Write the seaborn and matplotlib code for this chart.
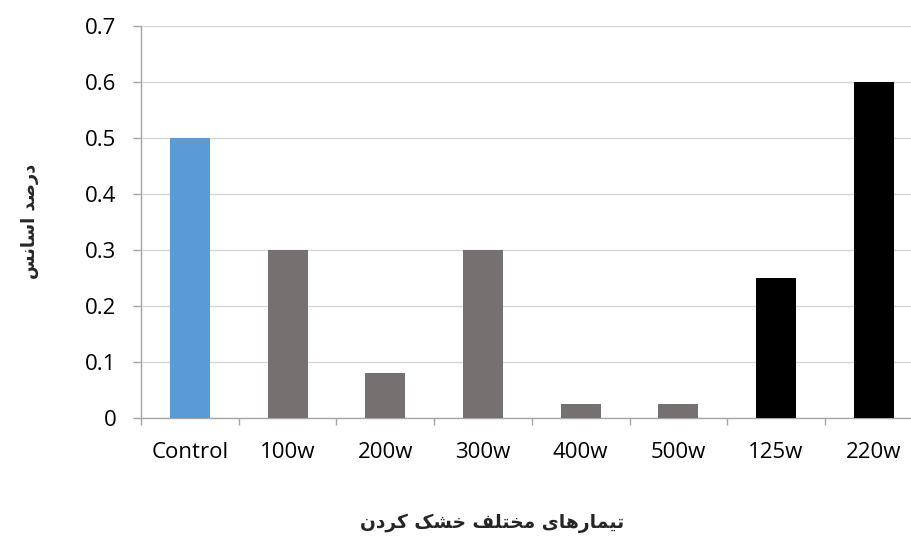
import matplotlib
matplotlib.use("Agg")
import matplotlib.pyplot as plt
import seaborn as sns

# Essential oil percentage by drying treatment
categories = ["Control", "100w", "200w", "300w", "400w", "500w", "125w", "220w"]
values = [0.5, 0.3, 0.08, 0.3, 0.025, 0.025, 0.25, 0.6]
bar_colors = ["#5B9BD5", "#767171", "#767171", "#767171", "#767171", "#767171",
              "#000000", "#000000"]
y_ticks = [0, 0.1, 0.2, 0.3, 0.4, 0.5, 0.6, 0.7]
y_label = "درصد اسانس"
x_label = "تیمارهای مختلف خشک کردن"

# Contextual forms (isolated, final, initial, medial) for the letters used
FORMS = {
    "ا": ("\uFE8D", "\uFE8E", None, None),
    "د": ("\uFEA9", "\uFEAA", None, None),
    "ر": ("\uFEAD", "\uFEAE", None, None),
    "ص": ("\uFEB9", "\uFEBA", "\uFEBB", "\uFEBC"),
    "س": ("\uFEB1", "\uFEB2", "\uFEB3", "\uFEB4"),
    "ن": ("\uFEE5", "\uFEE6", "\uFEE7", "\uFEE8"),
    "ت": ("\uFE95", "\uFE96", "\uFE97", "\uFE98"),
    "ی": ("\uFBFC", "\uFBFD", "\uFBFE", "\uFBFF"),
    "م": ("\uFEE1", "\uFEE2", "\uFEE3", "\uFEE4"),
    "ه": ("\uFEE9", "\uFEEA", "\uFEEB", "\uFEEC"),
    "خ": ("\uFEA5", "\uFEA6", "\uFEA7", "\uFEA8"),
    "ل": ("\uFEDD", "\uFEDE", "\uFEDF", "\uFEE0"),
    "ف": ("\uFED1", "\uFED2", "\uFED3", "\uFED4"),
    "ش": ("\uFEB5", "\uFEB6", "\uFEB7", "\uFEB8"),
    "ک": ("\uFB8E", "\uFB8F", "\uFB90", "\uFB91"),
}


def joins_forward(ch):
    return ch in FORMS and FORMS[ch][2] is not None


def shape_rtl(text):
    out = []
    for i, ch in enumerate(text):
        if ch not in FORMS:
            out.append(ch)
            continue
        prev_j = i > 0 and joins_forward(text[i - 1])
        next_j = (joins_forward(ch) and i + 1 < len(text)
                  and text[i + 1] in FORMS)
        iso, fin, ini, med = FORMS[ch]
        if prev_j and next_j:
            out.append(med)
        elif prev_j:
            out.append(fin)
        elif next_j:
            out.append(ini)
        else:
            out.append(iso)
    return "".join(reversed(out))


sns.set_theme(style="white")
plt.rcParams["font.family"] = ["Open Sans", "DejaVu Sans"]

W, H = 911, 538
fig = plt.figure(figsize=(W / 100, H / 100), dpi=100)
left_px, right_px, top_px, bottom_px = 141, 911, 26, 418
ax = fig.add_axes([left_px / W, 1 - bottom_px / H,
                   (right_px - left_px) / W, (bottom_px - top_px) / H])

sns.barplot(x=categories, y=values, hue=categories, palette=bar_colors,
            width=0.41, legend=False, saturation=1, linewidth=0, ax=ax,
            zorder=3)

# category boundary ticks on the x axis
ax.set_xticks([i - 0.5 for i in range(len(categories) + 1)])
ax.set_xticklabels([])
ax.set_xticks(range(len(categories)), minor=True)
ax.set_xticklabels(categories, minor=True)

step = 97.7
ax.set_xlim(-0.5, -0.5 + (right_px - left_px) / step)
ax.set_ylim(0, 0.7)
ax.set_yticks(y_ticks)
ax.set_yticklabels(["0"] + [f"{v:.1f}" for v in y_ticks[1:]])

tick_gray = "#A6A6A6"
ax.tick_params(axis="x", which="major", length=5.2, width=1, color=tick_gray,
               direction="out", bottom=True)
ax.tick_params(axis="x", which="minor", length=0, pad=17, labelsize=16,
               labelcolor="#000000")
ax.tick_params(axis="y", length=5.8, width=1, color=tick_gray, direction="out",
               left=True, pad=12, labelsize=16, labelcolor="#000000")

ax.yaxis.grid(True, color="#D6D6D6", linewidth=1, zorder=0)
ax.xaxis.grid(False)
ax.set_axisbelow(True)
for side in ["top", "right"]:
    ax.spines[side].set_visible(False)
for side in ["left", "bottom"]:
    ax.spines[side].set_color(tick_gray)
    ax.spines[side].set_linewidth(1)
ax.set_xlabel("")
ax.set_ylabel("")

fig.text(30 / W, 1 - 221 / H, shape_rtl(y_label), rotation=90,
         ha="center", va="center", fontsize=12.8, fontweight="bold",
         family="DejaVu Sans")
fig.text(492 / W, 1 - 523 / H, shape_rtl(x_label), ha="center", va="center",
         fontsize=13.4, fontweight="bold", family="DejaVu Sans")

fig.savefig("out.png", dpi=100)
